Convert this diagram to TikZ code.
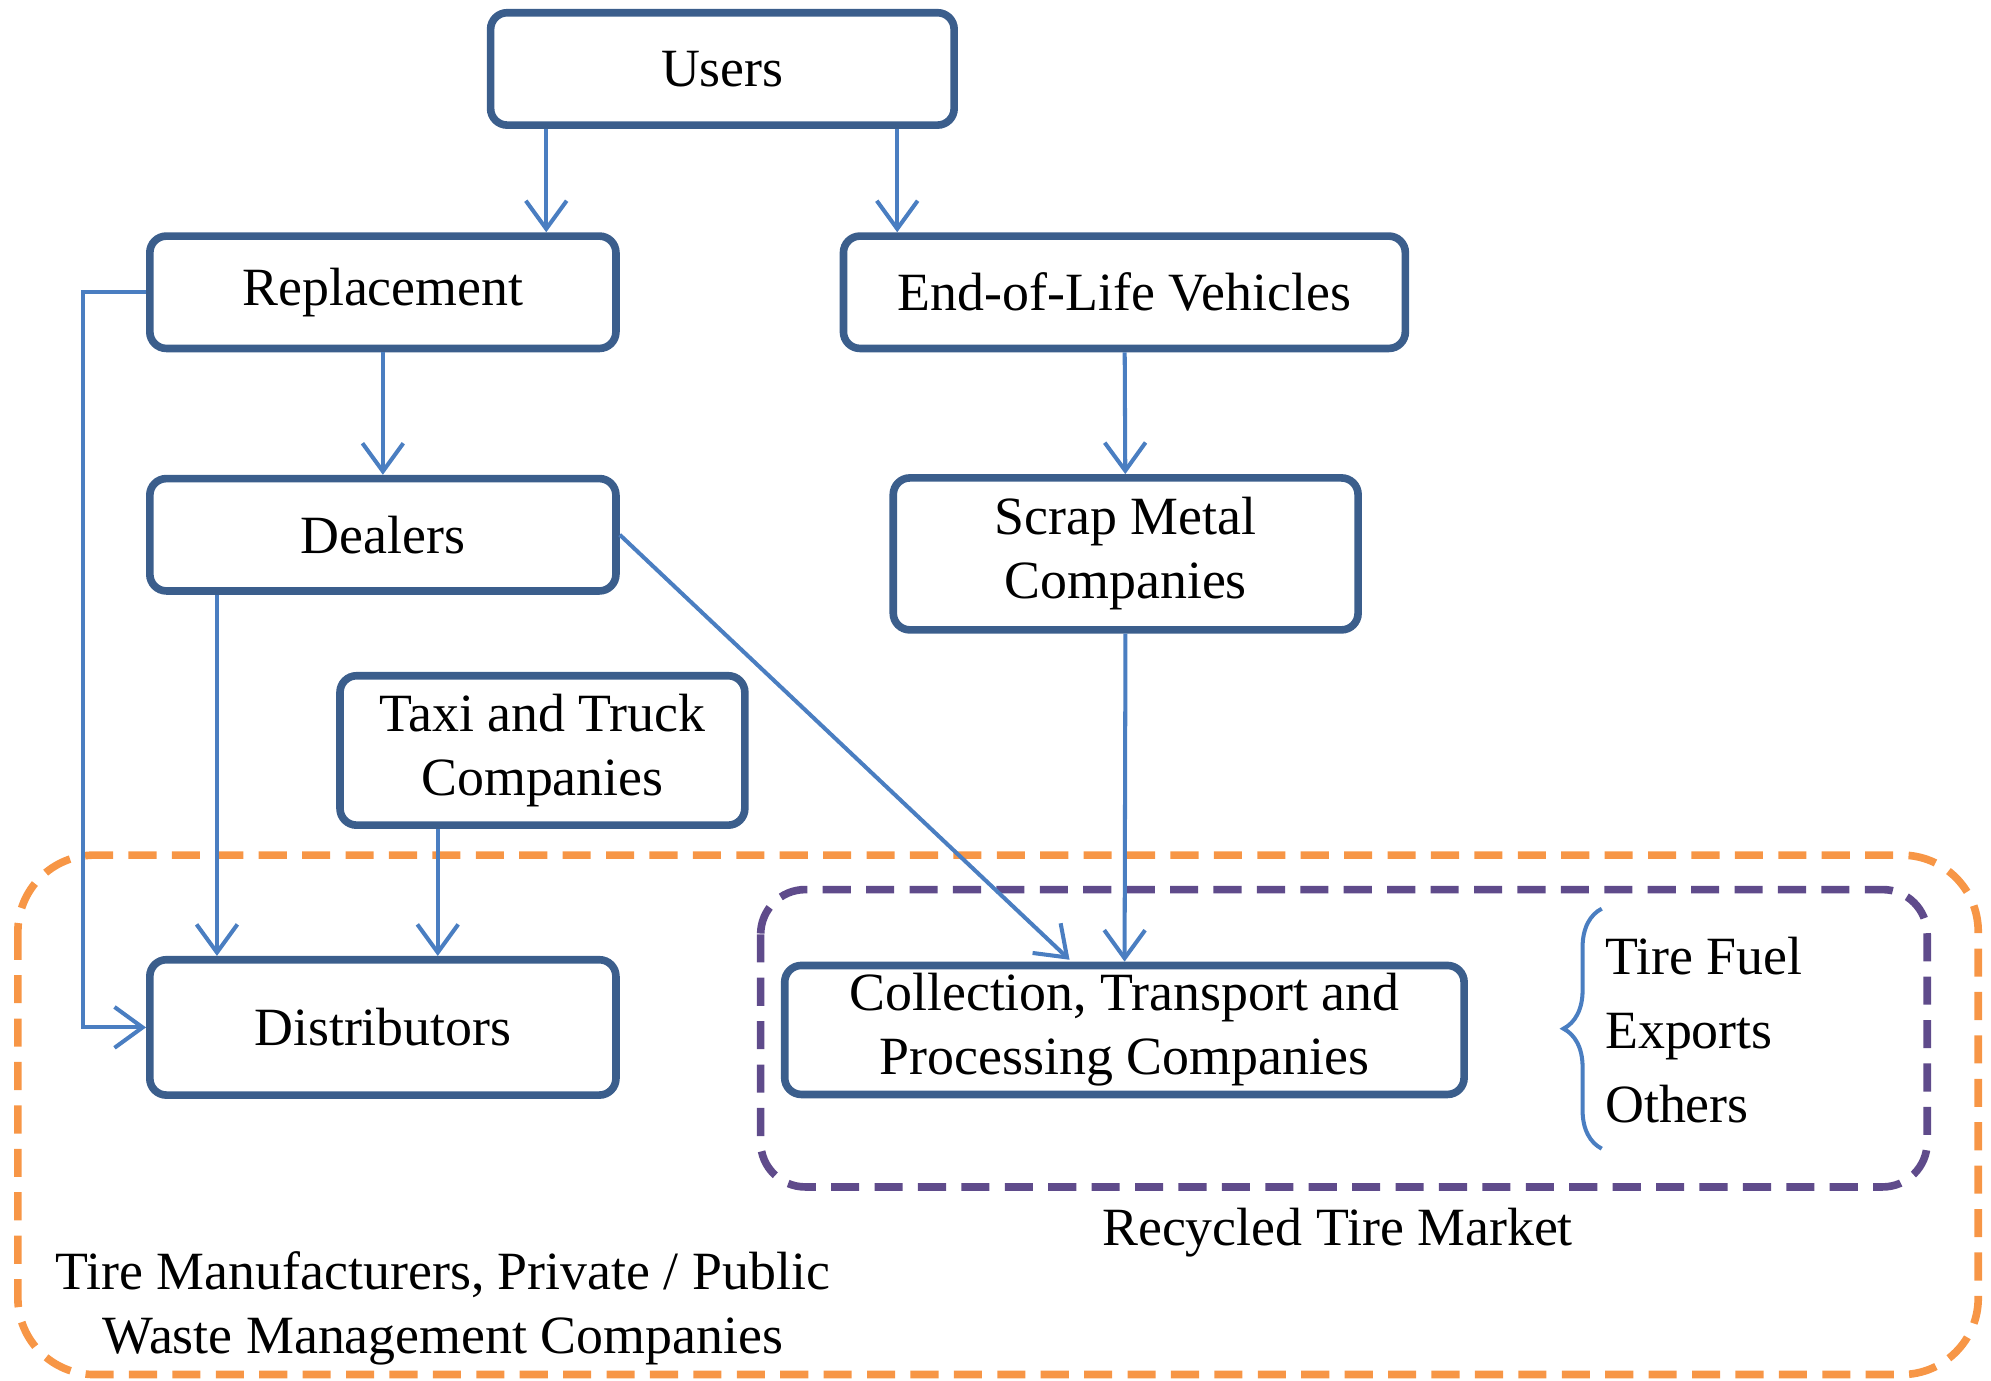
\documentclass[tikz,border=0pt]{standalone}
\usepackage{fontspec}
\setmainfont{Liberation Serif}
\usetikzlibrary{arrows.meta,positioning,calc,decorations.pathreplacing}
\definecolor{boxblue}{HTML}{3B5E8C}
\definecolor{arrowblue}{HTML}{4A7EC1}
\definecolor{zoneorange}{HTML}{F79646}
\definecolor{zonepurple}{HTML}{5F4B8B}
\begin{document}
\begin{tikzpicture}[x=0.01cm,y=-0.01cm,
    font=\fontsize{12}{14.2}\selectfont,
    box/.style={draw=boxblue, line width=1.7pt, rounded corners=0.13cm, align=center, inner sep=0pt},
    flow/.style={draw=arrowblue, line width=0.9pt, -{Straight Barb[length=0.22cm,width=0.32cm]}}]
        \useasboundingbox (0,0) rectangle (1560,1082);

        % zones
        \draw[zoneorange, line width=1.7pt, dash pattern=on 0.22cm off 0.12cm, rounded corners=0.6cm] (14,670) rectangle (1550,1077);
        \draw[zonepurple, line width=1.7pt, dash pattern=on 0.22cm off 0.12cm, rounded corners=0.35cm] (596,697) rectangle (1510,930);

        % boxes
        \node[box, minimum width=3.63cm, minimum height=0.88cm] (users) at (566,54) {Users};
        \node[box, minimum width=3.65cm, minimum height=0.88cm] (replacement) at (300,229) {Replacement};
        \node[box, minimum width=4.4cm, minimum height=0.88cm] (eol) at (881,229) {End-of-Life Vehicles};
        \node[box, minimum width=3.65cm, minimum height=0.88cm] (dealers) at (300,419) {Dealers};
        \node[box, minimum width=3.64cm, minimum height=1.19cm] (scrap) at (882,434) {Scrap Metal\\Companies};
        \node[box, minimum width=3.17cm, minimum height=1.17cm] (taxi) at (425,588) {Taxi and Truck\\Companies};
        \node[box, minimum width=3.65cm, minimum height=1.06cm] (distributors) at (300,805) {Distributors};
        \node[box, minimum width=5.32cm, minimum height=1.01cm] (collection) at (881,807) {Collection, Transport and\\Processing Companies};

        % flows
        \draw[flow] (users.south -| 428,0) -- (replacement.north -| 428,0);
        \draw[flow] (users.south -| 703,0) -- (eol.north -| 703,0);
        \draw[flow] (replacement) -- (dealers);
        \draw[flow] (eol) -- (scrap);
        \draw[flow] (replacement.west) -- (65,229) |- (distributors.west);
        \draw[flow] (dealers.south -| 170,0) -- (distributors.north -| 170,0);
        \draw[flow] (taxi.south -| 343,0) -- (distributors.north -| 343,0);
        \coordinate (dealers-end) at (838,752);
        \draw[flow] (dealers.east) -- (dealers-end);
        \draw[flow] (scrap) -- (collection);

        % market outlets
        \draw[arrowblue, line width=0.9pt, decorate, decoration={brace, amplitude=0.3cm}] (1255,900) -- (1255,712);
        \node[anchor=west, align=left, inner sep=0pt] (outlets) at (1257,807) {Tire Fuel\\[0.08cm]Exports\\[0.08cm]Others};

        % zone labels
        \node (market-label) at (1048,966) {Recycled Tire Market};
        \node[align=center] (makers-label) at (347,1025) {Tire Manufacturers, Private / Public\\Waste Management Companies};
\end{tikzpicture}
\end{document}
